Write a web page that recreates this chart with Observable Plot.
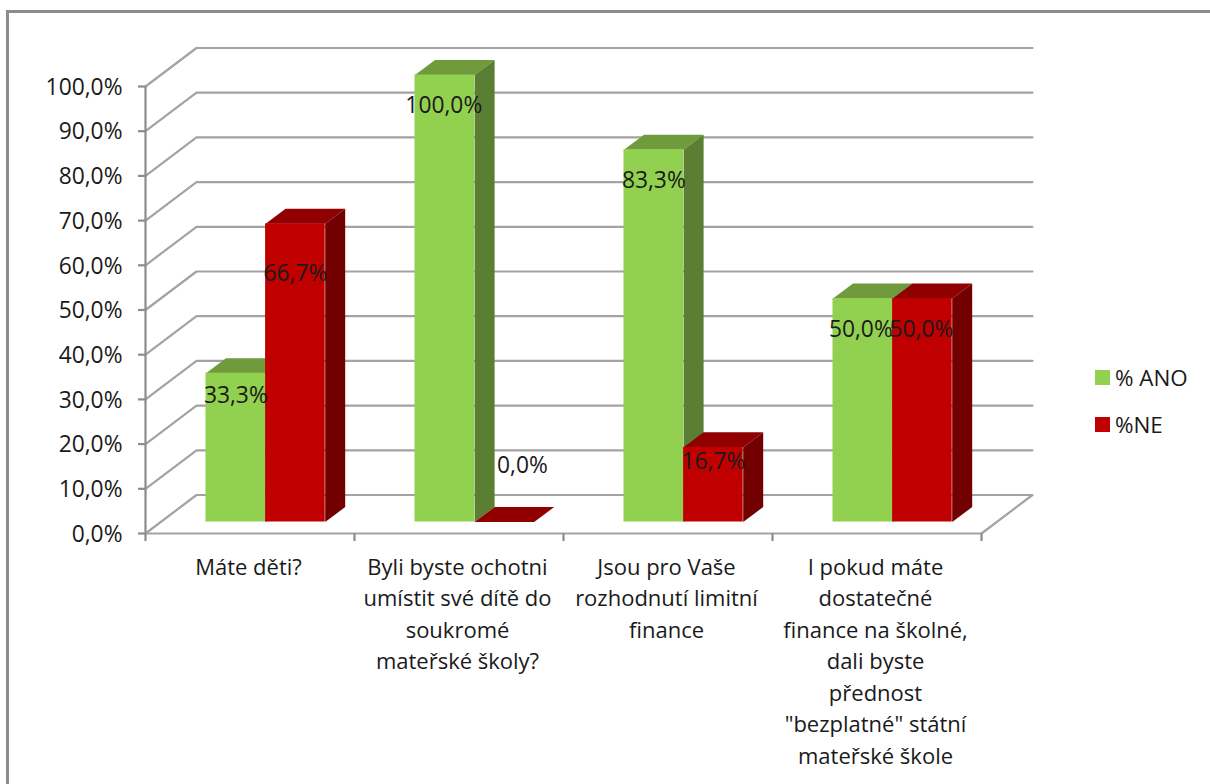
<!DOCTYPE html>
<html lang="cs">
<head>
<meta charset="utf-8">
<script src="https://cdn.jsdelivr.net/npm/d3@7"></script>
<script src="https://cdn.jsdelivr.net/npm/@observablehq/plot@0.6"></script>
<style>
  html, body { margin: 0; padding: 0; background: #fff; width: 1210px; height: 784px; overflow: hidden; }
  #wrap { position: relative; width: 1210px; height: 784px; overflow: hidden; font-family: "Open Sans", sans-serif; }
  #frame { position: absolute; left: 6px; top: 10px; width: 1300px; height: 900px; border: 3px solid #8c8c8c; box-sizing: border-box; }
  #legend { position: absolute; left: 1095px; top: 354px; font-size: 22.4px; color: #1a1a1a; }
  #legend div { display: flex; align-items: center; height: 47px; }
  #legend i { display: inline-block; width: 15px; height: 15px; margin-right: 5px; }
  svg { position: absolute; left: 0; top: 0; }
</style>
</head>
<body>
<div id="wrap"><div id="frame"></div><div id="chart"></div><div id="legend"></div></div>
<script>
const categories = [
  "Máte děti?",
  "Byli byste ochotni\numístit své dítě do\nsoukromé\nmateřské školy?",
  "Jsou pro Vaše\nrozhodnutí limitní\nfinance",
  "I pokud máte\ndostatečné\nfinance na školné,\ndali byste\npřednost\n\"bezplatné\" státní\nmateřské škole"
];
const seriesNames = ["% ANO", "%NE"];
const ano = [33.3, 100.0, 83.3, 50.0];
const ne = [66.7, 0.0, 16.7, 50.0];
const yTicks = [0, 10, 20, 30, 40, 50, 60, 70, 80, 90, 100];
const xTicks = [0, 1, 2, 3, 4];

const colors = [
  {front: "#92D050", top: "#6F9B3C", side: "#5A7F33"},
  {front: "#C00000", top: "#900000", side: "#730000"}
];
const fmt = v => v.toFixed(1).replace(".", ",") + "%";

// geometry of the fake 3D box, expressed in scale units
const W = 1210, H = 784;
const left = 145, right = 981, yTop = 86, yBot = 533;
const pxX = (right - left) / 4, pxY = (yBot - yTop) / 100;
const wallX = 51 / pxX, wallY = 38.5 / pxY;
const depthX = 20 / pxX, depthY = 15 / pxY;
const barOff = 60.5 / pxX, barW = 59.6 / pxX, lift = -11.5;

const wall = yTicks.flatMap(t => {
  const pts = [{k: t, x: 0, y: t}, {k: t, x: wallX, y: t + wallY}, {k: t, x: 4 + wallX, y: t + wallY}];
  if (t === 0) pts.push({k: t, x: 4, y: t});
  return pts;
});

const seriesVals = [ano, ne];
const labelShift = new Map([
  ["0|33.3", [0, 23]], ["1|100", [-1, 31]], ["2|83.3", [0, 31]], ["3|50|0", [-2, 31]],
  ["0|66.7", [0, 50]], ["1|0", [18, -56]], ["2|16.7", [0, 14]], ["3|50|1", [-1, 31]]
]);

const barMarks = seriesVals.flatMap((vals, s) => {
  const rows = vals.map((v, i) => ({i, v, x1: i + barOff + s * barW, x2: i + barOff + (s + 1) * barW}));
  const faces = rows.flatMap(r => [
    ...[[r.x1, r.v], [r.x2, r.v], [r.x2 + depthX, r.v + depthY], [r.x1 + depthX, r.v + depthY]]
      .map(([x, y]) => ({z: `t${r.i}`, x, y, fill: colors[s].top})),
    ...[[r.x2, 0], [r.x2, r.v], [r.x2 + depthX, r.v + depthY], [r.x2 + depthX, depthY]]
      .map(([x, y]) => ({z: `s${r.i}`, x, y, fill: colors[s].side}))
  ]);
  return [
    Plot.line(faces, {x: "x", y: "y", z: "z", fill: {value: "fill", scale: null}, stroke: "none", curve: "linear-closed", dy: lift}),
    Plot.rect(rows, {x1: "x1", x2: "x2", y1: 0, y2: "v", fill: colors[s].front, dy: lift, inset: 0})
  ];
});

const labelRows = seriesVals.flatMap((vals, s) => vals.map((v, i) => {
  const key = v === 50 ? `${i}|50|${s}` : `${i}|${v}`;
  const [dx, dy] = labelShift.get(key);
  return {x: i + barOff + (s + 0.5) * barW, y: v, text: fmt(v), dx, dy};
}));

const chart = Plot.plot({
  width: W, height: H,
  marginLeft: left, marginRight: W - right, marginTop: yTop, marginBottom: H - yBot,
  style: {background: "transparent", fontFamily: "'Open Sans', sans-serif", overflow: "visible"},
  x: {type: "linear", domain: [0, 4], axis: null},
  y: {type: "linear", domain: [0, 100], axis: null},
  marks: [
    Plot.line(wall, {x: "x", y: "y", z: "k", stroke: "#a3a3a3", strokeWidth: 2.2}),
    Plot.ruleX([0], {y1: 0, y2: 100, stroke: "#8c8c8c", strokeWidth: 2.2}),
    Plot.ruleY([0], {x1: 0, x2: 4, stroke: "#a3a3a3", strokeWidth: 2.2}),
    Plot.axisY({ticks: yTicks, tickFormat: () => "", tickSize: 7, stroke: "#8c8c8c", strokeWidth: 2.2, label: null}),
    Plot.axisY({ticks: yTicks, tickFormat: fmt, tickSize: 0, tickPadding: 23, fontSize: 22.8, dy: 1, color: "#1a1a1a", label: null}),
    Plot.axisX({ticks: xTicks, tickFormat: () => "", tickSize: 8, stroke: "#8c8c8c", strokeWidth: 2.2, label: null}),
    ...barMarks,
    ...labelRows.map(r => Plot.text([r], {x: "x", y: "y", text: "text", dx: r.dx, dy: r.dy + lift, fontSize: 22.8, fill: "#1a1a1a"})),
    Plot.text(categories, {x: (d, i) => i + 0.5, y: 0, text: d => d, dx: -1.5, dy: 19, lineAnchor: "top", lineHeight: 1.43, fontSize: 22, fill: "#1a1a1a", textAnchor: "middle"})
  ]
});
document.getElementById("chart").append(chart);
const legend = document.getElementById("legend");
seriesNames.forEach((n, s) => {
  const row = document.createElement("div");
  const sw = document.createElement("i");
  sw.style.background = colors[s].front;
  row.append(sw, document.createTextNode(n));
  legend.append(row);
});
</script>
</body>
</html>
